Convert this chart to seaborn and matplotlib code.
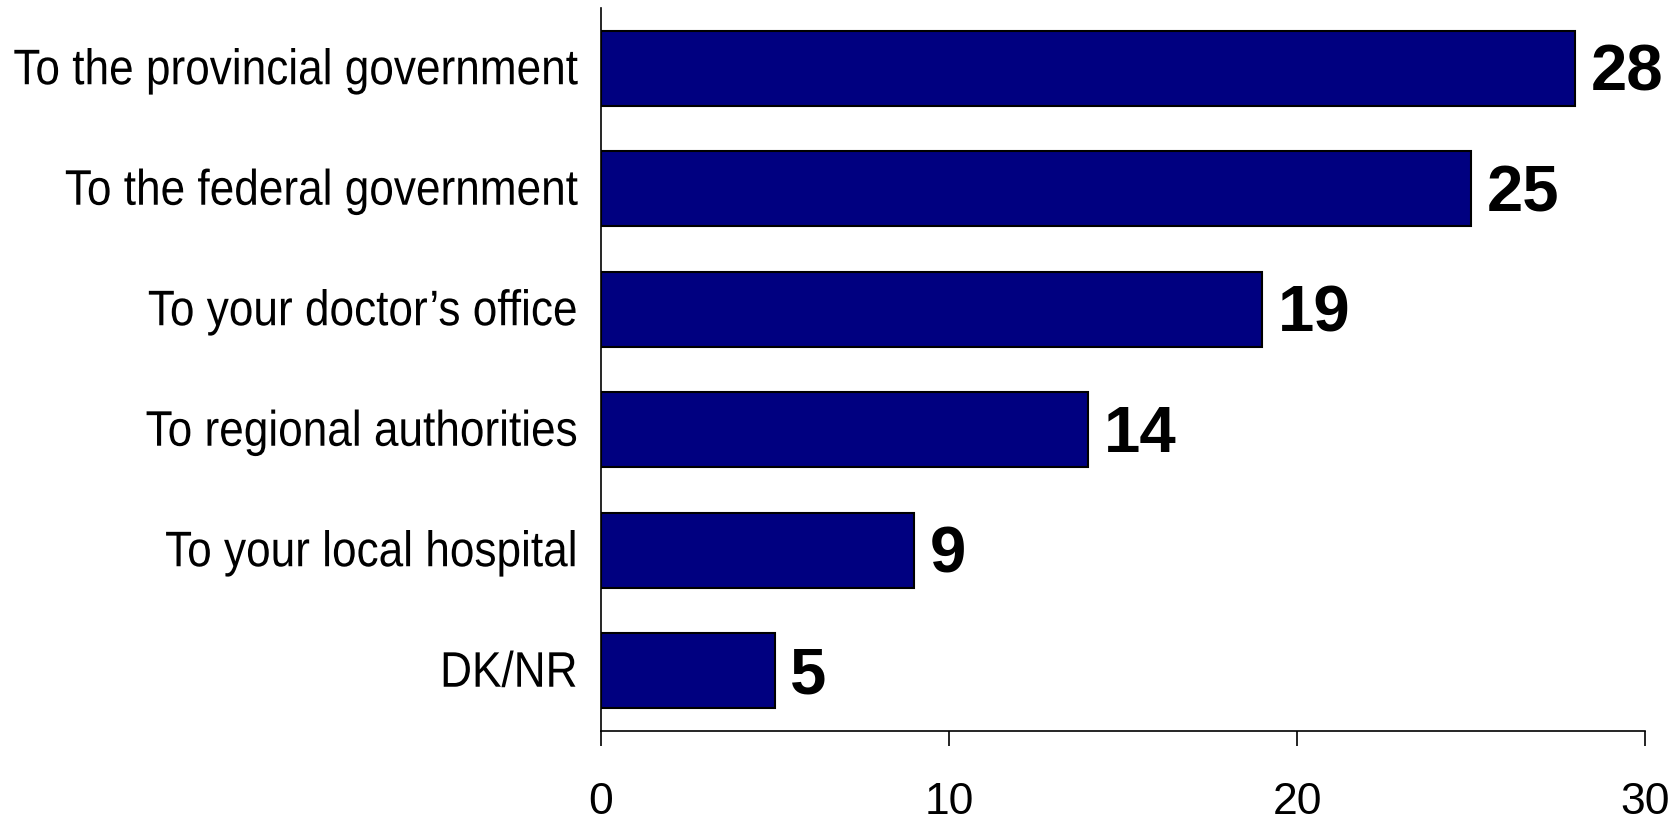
import matplotlib
matplotlib.use("Agg")
import matplotlib.pyplot as plt
from matplotlib.patheffects import AbstractPathEffect
from matplotlib.transforms import Affine2D
import seaborn as sns
import pandas as pd

categories = [
    "To the provincial government",
    "To the federal government",
    "To your doctor\u2019s office",
    "To regional authorities",
    "To your local hospital",
    "DK/NR",
]
values = [28, 25, 19, 14, 9, 5]
x_ticks = [0, 10, 20, 30]

df = pd.DataFrame({"category": categories, "value": values})


# no narrow font installed -> use a smaller size and stretch glyphs vertically
# (about the baseline) so the labels look condensed but keep a true bbox width
class Stretch(AbstractPathEffect):
    def __init__(self, sy):
        super().__init__()
        self.sy = sy

    def draw_path(self, renderer, gc, tpath, affine, rgbFace=None):
        base = affine.transform((0, 0))[1]
        aff = affine + Affine2D().translate(0, -base).scale(1, self.sy).translate(0, base)
        renderer.draw_path(gc, tpath, aff, rgbFace)


sns.set_theme(style="white")
plt.rcParams["font.family"] = ["Liberation Sans", "DejaVu Sans"]

fig = plt.figure(figsize=(16.81, 8.23), dpi=100)
ax = fig.add_axes([0.3575, 0.1118, 0.6211, 0.8785])

sns.barplot(data=df, x="value", y="category", color="#000080", saturation=1,
            width=0.62, edgecolor="black", linewidth=1.5, ax=ax)

for i, v in enumerate(values):
    ax.annotate(str(v), xy=(v, i), xytext=(11, -4), textcoords="offset points",
                va="center", ha="left", fontsize=47, fontweight="bold", color="black")

ax.set_xlim(0, 30)
ax.set_ylim(5.5, -0.5)
ax.set_xticks(x_ticks)
ax.set_xticklabels([str(t) for t in x_ticks], fontsize=32, color="black")
ax.set_yticks(range(len(categories)))
ax.set_yticklabels(categories, fontsize=31.8, color="black")
for lbl in ax.get_yticklabels():
    lbl.set_path_effects([Stretch(1.132)])
ax.set_xlabel("")
ax.set_ylabel("")
ax.tick_params(axis="x", bottom=True, direction="out", length=11, width=1.2, pad=26, colors="black")
ax.tick_params(axis="y", left=False, length=0, pad=17)

for side in ["top", "right"]:
    ax.spines[side].set_visible(False)
for side in ["left", "bottom"]:
    ax.spines[side].set_color("black")
    ax.spines[side].set_linewidth(1.2)

fig.savefig("out.png", dpi=100)
